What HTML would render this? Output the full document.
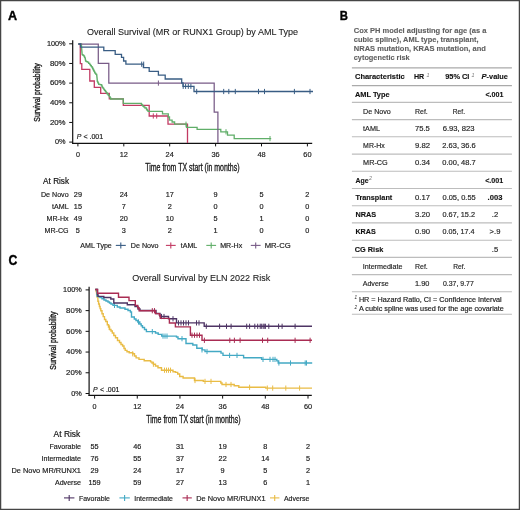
<!DOCTYPE html>
<html><head><meta charset="utf-8"><style>
html,body{margin:0;padding:0;background:#fff;}
body{width:520px;height:510px;overflow:hidden;}
svg{display:block;font-family:"Liberation Sans", sans-serif;will-change:transform;}
</style></head><body>
<svg width="520" height="510" viewBox="0 0 520 510">
<g>
<rect x="0" y="0" width="520" height="510" fill="#fff"/>
<text x="8.00" y="19.60" font-size="13.6" font-weight="bold" fill="#000" textLength="9.10" lengthAdjust="spacingAndGlyphs" stroke="#000" stroke-width="0.4">A</text>
<text x="87.00" y="34.60" font-size="9.9" fill="#1a1a1a" textLength="211.00" lengthAdjust="spacingAndGlyphs" stroke="#1a1a1a" stroke-width="0.1">Overall Survival (MR or RUNX1 Group) by AML Type</text>
<line x1="72.7" y1="40.3" x2="72.7" y2="144.0" stroke="#111" stroke-width="1.2"/>
<line x1="72.10000000000001" y1="143.4" x2="312.2" y2="143.4" stroke="#111" stroke-width="1.4"/>
<line x1="69.2" y1="43.8" x2="72.7" y2="43.8" stroke="#111" stroke-width="1"/>
<text x="65.60" y="46.00" font-size="7.18" text-anchor="end" fill="#1c1c1c" textLength="18.70" lengthAdjust="spacingAndGlyphs" stroke="#1c1c1c" stroke-width="0.18">100%</text>
<line x1="69.2" y1="63.459999999999994" x2="72.7" y2="63.459999999999994" stroke="#111" stroke-width="1"/>
<text x="65.60" y="65.66" font-size="7.18" text-anchor="end" fill="#1c1c1c" textLength="15.70" lengthAdjust="spacingAndGlyphs" stroke="#1c1c1c" stroke-width="0.18">80%</text>
<line x1="69.2" y1="83.12" x2="72.7" y2="83.12" stroke="#111" stroke-width="1"/>
<text x="65.60" y="85.32" font-size="7.18" text-anchor="end" fill="#1c1c1c" textLength="15.70" lengthAdjust="spacingAndGlyphs" stroke="#1c1c1c" stroke-width="0.18">60%</text>
<line x1="69.2" y1="102.78" x2="72.7" y2="102.78" stroke="#111" stroke-width="1"/>
<text x="65.60" y="104.98" font-size="7.18" text-anchor="end" fill="#1c1c1c" textLength="15.70" lengthAdjust="spacingAndGlyphs" stroke="#1c1c1c" stroke-width="0.18">40%</text>
<line x1="69.2" y1="122.44" x2="72.7" y2="122.44" stroke="#111" stroke-width="1"/>
<text x="65.60" y="124.64" font-size="7.18" text-anchor="end" fill="#1c1c1c" textLength="15.70" lengthAdjust="spacingAndGlyphs" stroke="#1c1c1c" stroke-width="0.18">20%</text>
<line x1="69.2" y1="142.1" x2="72.7" y2="142.1" stroke="#111" stroke-width="1"/>
<text x="65.60" y="144.30" font-size="7.18" text-anchor="end" fill="#1c1c1c" textLength="10.60" lengthAdjust="spacingAndGlyphs" stroke="#1c1c1c" stroke-width="0.18">0%</text>
<line x1="77.9" y1="143.4" x2="77.9" y2="146.4" stroke="#111" stroke-width="1"/>
<text x="77.90" y="157.40" font-size="7.49" text-anchor="middle" fill="#1c1c1c" textLength="4.00" lengthAdjust="spacingAndGlyphs" stroke="#1c1c1c" stroke-width="0.18">0</text>
<line x1="123.80000000000001" y1="143.4" x2="123.80000000000001" y2="146.4" stroke="#111" stroke-width="1"/>
<text x="123.80" y="157.40" font-size="7.49" text-anchor="middle" fill="#1c1c1c" textLength="8.20" lengthAdjust="spacingAndGlyphs" stroke="#1c1c1c" stroke-width="0.18">12</text>
<line x1="169.7" y1="143.4" x2="169.7" y2="146.4" stroke="#111" stroke-width="1"/>
<text x="169.70" y="157.40" font-size="7.49" text-anchor="middle" fill="#1c1c1c" textLength="8.20" lengthAdjust="spacingAndGlyphs" stroke="#1c1c1c" stroke-width="0.18">24</text>
<line x1="215.6" y1="143.4" x2="215.6" y2="146.4" stroke="#111" stroke-width="1"/>
<text x="215.60" y="157.40" font-size="7.49" text-anchor="middle" fill="#1c1c1c" textLength="8.20" lengthAdjust="spacingAndGlyphs" stroke="#1c1c1c" stroke-width="0.18">36</text>
<line x1="261.5" y1="143.4" x2="261.5" y2="146.4" stroke="#111" stroke-width="1"/>
<text x="261.50" y="157.40" font-size="7.49" text-anchor="middle" fill="#1c1c1c" textLength="8.20" lengthAdjust="spacingAndGlyphs" stroke="#1c1c1c" stroke-width="0.18">48</text>
<line x1="307.4" y1="143.4" x2="307.4" y2="146.4" stroke="#111" stroke-width="1"/>
<text x="307.40" y="157.40" font-size="7.49" text-anchor="middle" fill="#1c1c1c" textLength="8.20" lengthAdjust="spacingAndGlyphs" stroke="#1c1c1c" stroke-width="0.18">60</text>
<text x="145.20" y="171.30" font-size="10.15" fill="#121212" textLength="94.30" lengthAdjust="spacingAndGlyphs" stroke="#222" stroke-width="0.32">Time from TX start (in months)</text>
<text transform="translate(39.5,92.5) rotate(-90)" x="0" y="0" font-size="8.4" text-anchor="middle" textLength="58.4" lengthAdjust="spacingAndGlyphs" fill="#121212" stroke="#121212" stroke-width="0.3">Survival probability</text>
<text x="76.80" y="139.40" font-size="7.18" font-style="italic" fill="#1c1c1c" textLength="4.60" lengthAdjust="spacingAndGlyphs" stroke="#1c1c1c" stroke-width="0.18">P</text>
<text x="83.40" y="139.40" font-size="7.18" fill="#1c1c1c" textLength="19.80" lengthAdjust="spacingAndGlyphs" stroke="#1c1c1c" stroke-width="0.18">&lt; .001</text>
<path d="M78.40,44.00H80.30V63.60H81.80V69.40H89.80V81.00H94.30V87.30H100.70V93.30H109.30V98.90H123.30V105.30H149.20V116.00H168.00V124.20H187.50V143.00" fill="none" stroke="#c23a63" stroke-width="1.3" stroke-linejoin="miter" stroke-linecap="butt"/>
<path d="M153.30,113.40V118.60M156.70,113.40V118.60" fill="none" stroke="#c23a63" stroke-width="1"/>
<path d="M78.40,44.00H81.50V47.50H81.60V48.68H81.70V49.87H81.80V51.05H81.90V52.23H82.00V53.42H82.10V54.60H83.00V55.35H83.90V56.10H84.50V57.40H85.10V58.70H85.35V59.90H85.60V61.10H86.50V61.65H87.40V62.20H88.60V63.40H89.80V64.60H90.57V65.57H91.33V66.53H92.10V67.50H92.60V68.50H93.10V69.50H93.60V70.50H94.10V71.47H94.60V72.43H95.10V73.40H95.90V74.35H96.70V75.30H96.82V76.50H96.94V77.70H97.06V78.90H97.18V80.10H97.30V81.30H97.77V82.30H98.23V83.30H98.70V84.30H100.00V84.65H101.30V85.00H101.80V86.15H102.30V87.30H103.10V88.43H103.90V89.57H104.70V90.70H105.57V91.80H106.43V92.90H107.30V94.00H108.30V95.35H109.30V96.70H110.00V97.85H110.70V99.00H123.30V103.30H140.60H141.40V104.30H142.20V105.30H143.00V106.30H144.00V107.15H145.00V108.00H146.50V109.50H147.25V110.40H148.00V111.30H162.50V113.80H167.50H168.30V117.00H169.50V120.20H172.10V122.00H174.60V124.20H186.50V127.30H197.10V129.40H220.80V131.80H227.50V135.20H234.20V138.60H271.20" fill="none" stroke="#60ae69" stroke-width="1.3" stroke-linejoin="miter" stroke-linecap="butt"/>
<path d="M186.00,121.60V126.80M226.00,129.20V134.40M270.00,136.00V141.20" fill="none" stroke="#60ae69" stroke-width="1"/>
<path d="M78.40,44.00H98.30V63.30H108.80V83.10H214.20V112.10H217.90V143.00" fill="none" stroke="#785b87" stroke-width="1.25" stroke-linejoin="miter" stroke-linecap="butt"/>
<path d="M158.40,80.50V85.70" fill="none" stroke="#785b87" stroke-width="1"/>
<path d="M78.40,44.00H80.50V47.20H103.80V50.60H115.20V54.40H121.50V57.30H123.60V61.00H125.90V64.20H143.40V67.70H149.20V71.40H158.40V75.20H165.20V79.00H181.70V83.00H183.00V86.30H194.00V91.50H313.00" fill="none" stroke="#395d84" stroke-width="1.3" stroke-linejoin="miter" stroke-linecap="butt"/>
<path d="M141.70,61.60V66.80M143.70,61.60V66.80M183.20,83.70V88.90M185.60,83.70V88.90M188.30,83.70V88.90M190.90,83.70V88.90M196.70,88.90V94.10M223.70,88.90V94.10M228.80,88.90V94.10M235.30,88.90V94.10M258.50,88.90V94.10M264.50,88.90V94.10M294.40,88.90V94.10M310.00,88.90V94.10" fill="none" stroke="#395d84" stroke-width="1"/>
<text x="43.10" y="184.40" font-size="8.53" fill="#121212" textLength="26.00" lengthAdjust="spacingAndGlyphs" stroke="#121212" stroke-width="0.18">At Risk</text>
<text x="68.60" y="197.40" font-size="7.38" text-anchor="end" fill="#1c1c1c" textLength="27.62" lengthAdjust="spacingAndGlyphs" stroke="#1c1c1c" stroke-width="0.18">De Novo</text>
<text x="77.90" y="197.40" font-size="7.59" text-anchor="middle" fill="#1c1c1c" textLength="8.12" lengthAdjust="spacingAndGlyphs" stroke="#1c1c1c" stroke-width="0.18">29</text>
<text x="123.80" y="197.40" font-size="7.59" text-anchor="middle" fill="#1c1c1c" textLength="8.12" lengthAdjust="spacingAndGlyphs" stroke="#1c1c1c" stroke-width="0.18">24</text>
<text x="169.70" y="197.40" font-size="7.59" text-anchor="middle" fill="#1c1c1c" textLength="8.12" lengthAdjust="spacingAndGlyphs" stroke="#1c1c1c" stroke-width="0.18">17</text>
<text x="215.60" y="197.40" font-size="7.59" text-anchor="middle" fill="#1c1c1c" textLength="4.06" lengthAdjust="spacingAndGlyphs" stroke="#1c1c1c" stroke-width="0.18">9</text>
<text x="261.50" y="197.40" font-size="7.59" text-anchor="middle" fill="#1c1c1c" textLength="4.06" lengthAdjust="spacingAndGlyphs" stroke="#1c1c1c" stroke-width="0.18">5</text>
<text x="307.40" y="197.40" font-size="7.59" text-anchor="middle" fill="#1c1c1c" textLength="4.06" lengthAdjust="spacingAndGlyphs" stroke="#1c1c1c" stroke-width="0.18">2</text>
<text x="68.60" y="209.20" font-size="7.38" text-anchor="end" fill="#1c1c1c" textLength="16.57" lengthAdjust="spacingAndGlyphs" stroke="#1c1c1c" stroke-width="0.18">tAML</text>
<text x="77.90" y="209.20" font-size="7.59" text-anchor="middle" fill="#1c1c1c" textLength="8.12" lengthAdjust="spacingAndGlyphs" stroke="#1c1c1c" stroke-width="0.18">15</text>
<text x="123.80" y="209.20" font-size="7.59" text-anchor="middle" fill="#1c1c1c" textLength="4.06" lengthAdjust="spacingAndGlyphs" stroke="#1c1c1c" stroke-width="0.18">7</text>
<text x="169.70" y="209.20" font-size="7.59" text-anchor="middle" fill="#1c1c1c" textLength="4.06" lengthAdjust="spacingAndGlyphs" stroke="#1c1c1c" stroke-width="0.18">2</text>
<text x="215.60" y="209.20" font-size="7.59" text-anchor="middle" fill="#1c1c1c" textLength="4.06" lengthAdjust="spacingAndGlyphs" stroke="#1c1c1c" stroke-width="0.18">0</text>
<text x="261.50" y="209.20" font-size="7.59" text-anchor="middle" fill="#1c1c1c" textLength="4.06" lengthAdjust="spacingAndGlyphs" stroke="#1c1c1c" stroke-width="0.18">0</text>
<text x="307.40" y="209.20" font-size="7.59" text-anchor="middle" fill="#1c1c1c" textLength="4.06" lengthAdjust="spacingAndGlyphs" stroke="#1c1c1c" stroke-width="0.18">0</text>
<text x="68.60" y="221.00" font-size="7.38" text-anchor="end" fill="#1c1c1c" textLength="22.08" lengthAdjust="spacingAndGlyphs" stroke="#1c1c1c" stroke-width="0.18">MR-Hx</text>
<text x="77.90" y="221.00" font-size="7.59" text-anchor="middle" fill="#1c1c1c" textLength="8.12" lengthAdjust="spacingAndGlyphs" stroke="#1c1c1c" stroke-width="0.18">49</text>
<text x="123.80" y="221.00" font-size="7.59" text-anchor="middle" fill="#1c1c1c" textLength="8.12" lengthAdjust="spacingAndGlyphs" stroke="#1c1c1c" stroke-width="0.18">20</text>
<text x="169.70" y="221.00" font-size="7.59" text-anchor="middle" fill="#1c1c1c" textLength="8.12" lengthAdjust="spacingAndGlyphs" stroke="#1c1c1c" stroke-width="0.18">10</text>
<text x="215.60" y="221.00" font-size="7.59" text-anchor="middle" fill="#1c1c1c" textLength="4.06" lengthAdjust="spacingAndGlyphs" stroke="#1c1c1c" stroke-width="0.18">5</text>
<text x="261.50" y="221.00" font-size="7.59" text-anchor="middle" fill="#1c1c1c" textLength="4.06" lengthAdjust="spacingAndGlyphs" stroke="#1c1c1c" stroke-width="0.18">1</text>
<text x="307.40" y="221.00" font-size="7.59" text-anchor="middle" fill="#1c1c1c" textLength="4.06" lengthAdjust="spacingAndGlyphs" stroke="#1c1c1c" stroke-width="0.18">0</text>
<text x="68.60" y="233.10" font-size="7.38" text-anchor="end" fill="#1c1c1c" textLength="24.06" lengthAdjust="spacingAndGlyphs" stroke="#1c1c1c" stroke-width="0.18">MR-CG</text>
<text x="77.90" y="233.10" font-size="7.59" text-anchor="middle" fill="#1c1c1c" textLength="4.06" lengthAdjust="spacingAndGlyphs" stroke="#1c1c1c" stroke-width="0.18">5</text>
<text x="123.80" y="233.10" font-size="7.59" text-anchor="middle" fill="#1c1c1c" textLength="4.06" lengthAdjust="spacingAndGlyphs" stroke="#1c1c1c" stroke-width="0.18">3</text>
<text x="169.70" y="233.10" font-size="7.59" text-anchor="middle" fill="#1c1c1c" textLength="4.06" lengthAdjust="spacingAndGlyphs" stroke="#1c1c1c" stroke-width="0.18">2</text>
<text x="215.60" y="233.10" font-size="7.59" text-anchor="middle" fill="#1c1c1c" textLength="4.06" lengthAdjust="spacingAndGlyphs" stroke="#1c1c1c" stroke-width="0.18">1</text>
<text x="261.50" y="233.10" font-size="7.59" text-anchor="middle" fill="#1c1c1c" textLength="4.06" lengthAdjust="spacingAndGlyphs" stroke="#1c1c1c" stroke-width="0.18">0</text>
<text x="307.40" y="233.10" font-size="7.59" text-anchor="middle" fill="#1c1c1c" textLength="4.06" lengthAdjust="spacingAndGlyphs" stroke="#1c1c1c" stroke-width="0.18">0</text>
<text x="80.30" y="248.30" font-size="7.49" fill="#1c1c1c" textLength="31.50" lengthAdjust="spacingAndGlyphs" stroke="#1c1c1c" stroke-width="0.18">AML Type</text>
<line x1="115.8" y1="245.4" x2="125.8" y2="245.4" stroke="#395d84" stroke-width="1.1"/>
<line x1="120.8" y1="242.4" x2="120.8" y2="248.4" stroke="#395d84" stroke-width="1.1"/>
<text x="130.80" y="248.30" font-size="7.49" fill="#1c1c1c" textLength="27.80" lengthAdjust="spacingAndGlyphs" stroke="#1c1c1c" stroke-width="0.18">De Novo</text>
<line x1="165.9" y1="245.4" x2="175.7" y2="245.4" stroke="#c23a63" stroke-width="1.1"/>
<line x1="170.8" y1="242.4" x2="170.8" y2="248.4" stroke="#c23a63" stroke-width="1.1"/>
<text x="180.80" y="248.30" font-size="7.49" fill="#1c1c1c" textLength="16.50" lengthAdjust="spacingAndGlyphs" stroke="#1c1c1c" stroke-width="0.18">tAML</text>
<line x1="206.3" y1="245.4" x2="216.1" y2="245.4" stroke="#60ae69" stroke-width="1.1"/>
<line x1="211.2" y1="242.4" x2="211.2" y2="248.4" stroke="#60ae69" stroke-width="1.1"/>
<text x="220.20" y="248.30" font-size="7.49" fill="#1c1c1c" textLength="22.00" lengthAdjust="spacingAndGlyphs" stroke="#1c1c1c" stroke-width="0.18">MR-Hx</text>
<line x1="250.8" y1="245.4" x2="260.6" y2="245.4" stroke="#785b87" stroke-width="1.1"/>
<line x1="255.70000000000002" y1="242.4" x2="255.70000000000002" y2="248.4" stroke="#785b87" stroke-width="1.1"/>
<text x="264.70" y="248.30" font-size="7.49" fill="#1c1c1c" textLength="26.00" lengthAdjust="spacingAndGlyphs" stroke="#1c1c1c" stroke-width="0.18">MR-CG</text>
<text x="339.70" y="19.60" font-size="13.6" font-weight="bold" fill="#000" textLength="8.20" lengthAdjust="spacingAndGlyphs" stroke="#000" stroke-width="0.4">B</text>
<text x="353.80" y="33.20" font-size="7.5" font-weight="bold" fill="#5f5f5f" textLength="132.70" lengthAdjust="spacingAndGlyphs" stroke="#5f5f5f" stroke-width="0.12">Cox PH model adjusting for age (as a</text>
<text x="353.80" y="42.00" font-size="7.5" font-weight="bold" fill="#5f5f5f" textLength="124.70" lengthAdjust="spacingAndGlyphs" stroke="#5f5f5f" stroke-width="0.12">cubic spline), AML type, transplant,</text>
<text x="353.80" y="50.80" font-size="7.5" font-weight="bold" fill="#5f5f5f" textLength="132.10" lengthAdjust="spacingAndGlyphs" stroke="#5f5f5f" stroke-width="0.12">NRAS mutation, KRAS mutation, and</text>
<text x="353.80" y="59.60" font-size="7.5" font-weight="bold" fill="#5f5f5f" textLength="55.80" lengthAdjust="spacingAndGlyphs" stroke="#5f5f5f" stroke-width="0.12">cytogenetic risk</text>
<line x1="351.9" y1="67.9" x2="511.9" y2="67.9" stroke="#aaaaaa" stroke-width="1.2"/>
<line x1="351.9" y1="85.6" x2="511.9" y2="85.6" stroke="#aaaaaa" stroke-width="1.2"/>
<line x1="351.9" y1="102.4" x2="511.9" y2="102.4" stroke="#bdbdbd" stroke-width="1.1"/>
<line x1="351.9" y1="119.6" x2="511.9" y2="119.6" stroke="#bdbdbd" stroke-width="1.1"/>
<line x1="351.9" y1="136.8" x2="511.9" y2="136.8" stroke="#bdbdbd" stroke-width="1.1"/>
<line x1="351.9" y1="154.1" x2="511.9" y2="154.1" stroke="#bdbdbd" stroke-width="1.1"/>
<line x1="351.9" y1="171.3" x2="511.9" y2="171.3" stroke="#bdbdbd" stroke-width="1.1"/>
<line x1="351.9" y1="188.5" x2="511.9" y2="188.5" stroke="#bdbdbd" stroke-width="1.1"/>
<line x1="351.9" y1="205.7" x2="511.9" y2="205.7" stroke="#bdbdbd" stroke-width="1.1"/>
<line x1="351.9" y1="222.9" x2="511.9" y2="222.9" stroke="#bdbdbd" stroke-width="1.1"/>
<line x1="351.9" y1="240.2" x2="511.9" y2="240.2" stroke="#bdbdbd" stroke-width="1.1"/>
<line x1="351.9" y1="257.4" x2="511.9" y2="257.4" stroke="#bdbdbd" stroke-width="1.1"/>
<line x1="351.9" y1="274.6" x2="511.9" y2="274.6" stroke="#bdbdbd" stroke-width="1.1"/>
<line x1="351.9" y1="291.8" x2="511.9" y2="291.8" stroke="#bdbdbd" stroke-width="1.1"/>
<line x1="351.9" y1="314.3" x2="511.9" y2="314.3" stroke="#bdbdbd" stroke-width="1.1"/>
<text x="355.00" y="79.40" font-size="7.6" font-weight="bold" fill="#111" textLength="49.70" lengthAdjust="spacingAndGlyphs" stroke="#111" stroke-width="0.12">Characteristic</text>
<text x="413.90" y="79.40" font-size="7.6" font-weight="bold" fill="#111" textLength="10.30" lengthAdjust="spacingAndGlyphs" stroke="#111" stroke-width="0.12">HR</text>
<text x="426.60" y="76.90" font-size="5.4" font-style="italic" fill="#777" textLength="3.00" lengthAdjust="spacingAndGlyphs" stroke-width="0">1</text>
<text x="445.20" y="79.40" font-size="7.6" font-weight="bold" fill="#111" textLength="24.20" lengthAdjust="spacingAndGlyphs" stroke="#111" stroke-width="0.12">95% CI</text>
<text x="471.40" y="76.90" font-size="5.4" font-style="italic" fill="#777" textLength="3.00" lengthAdjust="spacingAndGlyphs" stroke-width="0">1</text>
<text x="481.40" y="79.40" font-size="7.6" font-weight="bold" font-style="italic" fill="#111" textLength="5.07" lengthAdjust="spacingAndGlyphs" stroke="#111" stroke-width="0.12">P</text>
<text x="486.60" y="79.40" font-size="7.6" font-weight="bold" fill="#111" textLength="21.30" lengthAdjust="spacingAndGlyphs" stroke="#111" stroke-width="0.12">-value</text>
<text x="355.00" y="96.90" font-size="7.6" font-weight="bold" fill="#111" textLength="34.60" lengthAdjust="spacingAndGlyphs" stroke="#111" stroke-width="0.12">AML Type</text>
<text x="485.40" y="96.90" font-size="7.6" font-weight="bold" fill="#111" textLength="18.10" lengthAdjust="spacingAndGlyphs" stroke="#111" stroke-width="0.12">&lt;.001</text>
<text x="363.10" y="113.80" font-size="7.8" fill="#262626" textLength="27.70" lengthAdjust="spacingAndGlyphs" stroke="#262626" stroke-width="0.18">De Novo</text>
<text x="415.00" y="113.80" font-size="7.7" fill="#262626" textLength="12.80" lengthAdjust="spacingAndGlyphs" stroke="#262626" stroke-width="0.18">Ref.</text>
<text x="452.80" y="113.80" font-size="7.7" fill="#262626" textLength="12.20" lengthAdjust="spacingAndGlyphs" stroke="#262626" stroke-width="0.18">Ref.</text>
<text x="363.10" y="131.02" font-size="7.8" fill="#262626" textLength="16.90" lengthAdjust="spacingAndGlyphs" stroke="#262626" stroke-width="0.18">tAML</text>
<text x="415.00" y="131.02" font-size="7.7" fill="#262626" textLength="14.80" lengthAdjust="spacingAndGlyphs" stroke="#262626" stroke-width="0.18">75.5</text>
<text x="442.70" y="131.02" font-size="7.7" fill="#262626" textLength="31.90" lengthAdjust="spacingAndGlyphs" stroke="#262626" stroke-width="0.18">6.93, 823</text>
<text x="363.10" y="148.24" font-size="7.8" fill="#262626" textLength="21.60" lengthAdjust="spacingAndGlyphs" stroke="#262626" stroke-width="0.18">MR-Hx</text>
<text x="415.00" y="148.24" font-size="7.7" fill="#262626" textLength="15.00" lengthAdjust="spacingAndGlyphs" stroke="#262626" stroke-width="0.18">9.82</text>
<text x="442.30" y="148.24" font-size="7.7" fill="#262626" textLength="33.40" lengthAdjust="spacingAndGlyphs" stroke="#262626" stroke-width="0.18">2.63, 36.6</text>
<text x="363.10" y="165.46" font-size="7.8" fill="#262626" textLength="24.60" lengthAdjust="spacingAndGlyphs" stroke="#262626" stroke-width="0.18">MR-CG</text>
<text x="415.00" y="165.46" font-size="7.7" fill="#262626" textLength="15.00" lengthAdjust="spacingAndGlyphs" stroke="#262626" stroke-width="0.18">0.34</text>
<text x="442.30" y="165.46" font-size="7.7" fill="#262626" textLength="33.40" lengthAdjust="spacingAndGlyphs" stroke="#262626" stroke-width="0.18">0.00, 48.7</text>
<text x="355.40" y="182.68" font-size="7.6" font-weight="bold" fill="#111" textLength="13.10" lengthAdjust="spacingAndGlyphs" stroke="#111" stroke-width="0.12">Age</text>
<text x="369.00" y="179.98" font-size="5.4" font-style="italic" fill="#777" textLength="3.00" lengthAdjust="spacingAndGlyphs" stroke-width="0">2</text>
<text x="485.20" y="182.68" font-size="7.6" font-weight="bold" fill="#111" textLength="18.10" lengthAdjust="spacingAndGlyphs" stroke="#111" stroke-width="0.12">&lt;.001</text>
<text x="355.40" y="199.90" font-size="7.6" font-weight="bold" fill="#111" textLength="36.90" lengthAdjust="spacingAndGlyphs" stroke="#111" stroke-width="0.12">Transplant</text>
<text x="415.00" y="199.90" font-size="7.7" fill="#262626" textLength="15.00" lengthAdjust="spacingAndGlyphs" stroke="#262626" stroke-width="0.18">0.17</text>
<text x="442.50" y="199.90" font-size="7.7" fill="#262626" textLength="33.20" lengthAdjust="spacingAndGlyphs" stroke="#262626" stroke-width="0.18">0.05, 0.55</text>
<text x="495.00" y="199.90" font-size="7.6" text-anchor="middle" font-weight="bold" fill="#111" textLength="14.79" lengthAdjust="spacingAndGlyphs" stroke="#111" stroke-width="0.12">.003</text>
<text x="355.40" y="217.12" font-size="7.6" font-weight="bold" fill="#111" textLength="20.80" lengthAdjust="spacingAndGlyphs" stroke="#111" stroke-width="0.12">NRAS</text>
<text x="415.00" y="217.12" font-size="7.7" fill="#262626" textLength="15.00" lengthAdjust="spacingAndGlyphs" stroke="#262626" stroke-width="0.18">3.20</text>
<text x="442.50" y="217.12" font-size="7.7" fill="#262626" textLength="32.50" lengthAdjust="spacingAndGlyphs" stroke="#262626" stroke-width="0.18">0.67, 15.2</text>
<text x="495.00" y="217.12" font-size="7.9" text-anchor="middle" fill="#262626" textLength="6.34" lengthAdjust="spacingAndGlyphs" stroke="#262626" stroke-width="0.18">.2</text>
<text x="355.40" y="234.34" font-size="7.6" font-weight="bold" fill="#111" textLength="20.40" lengthAdjust="spacingAndGlyphs" stroke="#111" stroke-width="0.12">KRAS</text>
<text x="415.00" y="234.34" font-size="7.7" fill="#262626" textLength="15.00" lengthAdjust="spacingAndGlyphs" stroke="#262626" stroke-width="0.18">0.90</text>
<text x="442.50" y="234.34" font-size="7.7" fill="#262626" textLength="32.00" lengthAdjust="spacingAndGlyphs" stroke="#262626" stroke-width="0.18">0.05, 17.4</text>
<text x="495.00" y="234.34" font-size="7.9" text-anchor="middle" fill="#262626" textLength="10.78" lengthAdjust="spacingAndGlyphs" stroke="#262626" stroke-width="0.18">&gt;.9</text>
<text x="354.80" y="251.56" font-size="7.6" font-weight="bold" fill="#111" textLength="28.50" lengthAdjust="spacingAndGlyphs" stroke="#111" stroke-width="0.12">CG Risk</text>
<text x="495.00" y="251.56" font-size="7.9" text-anchor="middle" fill="#262626" textLength="6.34" lengthAdjust="spacingAndGlyphs" stroke="#262626" stroke-width="0.18">.5</text>
<text x="362.70" y="268.78" font-size="7.8" fill="#262626" textLength="39.70" lengthAdjust="spacingAndGlyphs" stroke="#262626" stroke-width="0.18">Intermediate</text>
<text x="415.00" y="268.78" font-size="7.7" fill="#262626" textLength="12.80" lengthAdjust="spacingAndGlyphs" stroke="#262626" stroke-width="0.18">Ref.</text>
<text x="453.20" y="268.78" font-size="7.7" fill="#262626" textLength="12.20" lengthAdjust="spacingAndGlyphs" stroke="#262626" stroke-width="0.18">Ref.</text>
<text x="362.70" y="286.00" font-size="7.8" fill="#262626" textLength="26.00" lengthAdjust="spacingAndGlyphs" stroke="#262626" stroke-width="0.18">Adverse</text>
<text x="415.00" y="286.00" font-size="7.7" fill="#262626" textLength="14.40" lengthAdjust="spacingAndGlyphs" stroke="#262626" stroke-width="0.18">1.90</text>
<text x="443.00" y="286.00" font-size="7.7" fill="#262626" textLength="30.80" lengthAdjust="spacingAndGlyphs" stroke="#262626" stroke-width="0.18">0.37, 9.77</text>
<text x="354.40" y="299.40" font-size="4.78" font-style="italic" fill="#1c1c1c" textLength="2.56" lengthAdjust="spacingAndGlyphs">1</text>
<text x="358.90" y="302.00" font-size="7.54" fill="#1c1c1c" textLength="142.80" lengthAdjust="spacingAndGlyphs" stroke="#1c1c1c" stroke-width="0.18">HR = Hazard Ratio, CI = Confidence Interval</text>
<text x="354.40" y="308.60" font-size="4.78" font-style="italic" fill="#1c1c1c" textLength="2.56" lengthAdjust="spacingAndGlyphs">2</text>
<text x="358.90" y="311.20" font-size="7.54" fill="#1c1c1c" textLength="145.00" lengthAdjust="spacingAndGlyphs" stroke="#1c1c1c" stroke-width="0.18">A cubic spline was used for the age covariate</text>
<text x="8.40" y="265.30" font-size="14.0" font-weight="bold" fill="#000" textLength="8.80" lengthAdjust="spacingAndGlyphs" stroke="#000" stroke-width="0.4">C</text>
<text x="132.30" y="280.70" font-size="9.9" fill="#1a1a1a" textLength="137.90" lengthAdjust="spacingAndGlyphs" stroke="#1a1a1a" stroke-width="0.1">Overall Survival by ELN 2022 Risk</text>
<line x1="89.1" y1="286.8" x2="89.1" y2="396.0" stroke="#111" stroke-width="1.2"/>
<line x1="88.5" y1="395.4" x2="311.8" y2="395.4" stroke="#111" stroke-width="1.4"/>
<line x1="85.6" y1="289.9" x2="89.1" y2="289.9" stroke="#111" stroke-width="1"/>
<text x="81.80" y="292.10" font-size="7.18" text-anchor="end" fill="#1c1c1c" textLength="18.70" lengthAdjust="spacingAndGlyphs" stroke="#1c1c1c" stroke-width="0.18">100%</text>
<line x1="85.6" y1="310.62" x2="89.1" y2="310.62" stroke="#111" stroke-width="1"/>
<text x="81.80" y="312.82" font-size="7.18" text-anchor="end" fill="#1c1c1c" textLength="15.70" lengthAdjust="spacingAndGlyphs" stroke="#1c1c1c" stroke-width="0.18">80%</text>
<line x1="85.6" y1="331.34000000000003" x2="89.1" y2="331.34000000000003" stroke="#111" stroke-width="1"/>
<text x="81.80" y="333.54" font-size="7.18" text-anchor="end" fill="#1c1c1c" textLength="15.70" lengthAdjust="spacingAndGlyphs" stroke="#1c1c1c" stroke-width="0.18">60%</text>
<line x1="85.6" y1="352.06" x2="89.1" y2="352.06" stroke="#111" stroke-width="1"/>
<text x="81.80" y="354.26" font-size="7.18" text-anchor="end" fill="#1c1c1c" textLength="15.70" lengthAdjust="spacingAndGlyphs" stroke="#1c1c1c" stroke-width="0.18">40%</text>
<line x1="85.6" y1="372.78" x2="89.1" y2="372.78" stroke="#111" stroke-width="1"/>
<text x="81.80" y="374.98" font-size="7.18" text-anchor="end" fill="#1c1c1c" textLength="15.70" lengthAdjust="spacingAndGlyphs" stroke="#1c1c1c" stroke-width="0.18">20%</text>
<line x1="85.6" y1="393.5" x2="89.1" y2="393.5" stroke="#111" stroke-width="1"/>
<text x="81.80" y="395.70" font-size="7.18" text-anchor="end" fill="#1c1c1c" textLength="10.60" lengthAdjust="spacingAndGlyphs" stroke="#1c1c1c" stroke-width="0.18">0%</text>
<line x1="94.6" y1="395.4" x2="94.6" y2="398.6" stroke="#111" stroke-width="1"/>
<text x="94.60" y="408.60" font-size="7.49" text-anchor="middle" fill="#1c1c1c" textLength="4.00" lengthAdjust="spacingAndGlyphs" stroke="#1c1c1c" stroke-width="0.18">0</text>
<line x1="137.28" y1="395.4" x2="137.28" y2="398.6" stroke="#111" stroke-width="1"/>
<text x="137.28" y="408.60" font-size="7.49" text-anchor="middle" fill="#1c1c1c" textLength="8.20" lengthAdjust="spacingAndGlyphs" stroke="#1c1c1c" stroke-width="0.18">12</text>
<line x1="179.95999999999998" y1="395.4" x2="179.95999999999998" y2="398.6" stroke="#111" stroke-width="1"/>
<text x="179.96" y="408.60" font-size="7.49" text-anchor="middle" fill="#1c1c1c" textLength="8.20" lengthAdjust="spacingAndGlyphs" stroke="#1c1c1c" stroke-width="0.18">24</text>
<line x1="222.64000000000001" y1="395.4" x2="222.64000000000001" y2="398.6" stroke="#111" stroke-width="1"/>
<text x="222.64" y="408.60" font-size="7.49" text-anchor="middle" fill="#1c1c1c" textLength="8.20" lengthAdjust="spacingAndGlyphs" stroke="#1c1c1c" stroke-width="0.18">36</text>
<line x1="265.32" y1="395.4" x2="265.32" y2="398.6" stroke="#111" stroke-width="1"/>
<text x="265.32" y="408.60" font-size="7.49" text-anchor="middle" fill="#1c1c1c" textLength="8.20" lengthAdjust="spacingAndGlyphs" stroke="#1c1c1c" stroke-width="0.18">48</text>
<line x1="308.0" y1="395.4" x2="308.0" y2="398.6" stroke="#111" stroke-width="1"/>
<text x="308.00" y="408.60" font-size="7.49" text-anchor="middle" fill="#1c1c1c" textLength="8.20" lengthAdjust="spacingAndGlyphs" stroke="#1c1c1c" stroke-width="0.18">60</text>
<text x="146.20" y="423.20" font-size="10.15" fill="#121212" textLength="94.30" lengthAdjust="spacingAndGlyphs" stroke="#222" stroke-width="0.32">Time from TX start (in months)</text>
<text transform="translate(55.8,340.6) rotate(-90)" x="0" y="0" font-size="8.4" text-anchor="middle" textLength="58.2" lengthAdjust="spacingAndGlyphs" fill="#121212" stroke="#121212" stroke-width="0.3">Survival probability</text>
<text x="93.00" y="391.50" font-size="7.18" font-style="italic" fill="#1c1c1c" textLength="4.60" lengthAdjust="spacingAndGlyphs" stroke="#1c1c1c" stroke-width="0.18">P</text>
<text x="99.90" y="391.50" font-size="7.18" fill="#1c1c1c" textLength="19.60" lengthAdjust="spacingAndGlyphs" stroke="#1c1c1c" stroke-width="0.18">&lt; .001</text>
<path d="M95.30,289.50H96.10V291.50H96.60V294.00H97.10V297.00H97.90V301.30H98.60V304.00H99.40V306.50H100.10V308.60H100.80V310.70H102.00V313.70H103.20V316.60H104.50V319.50H105.80V321.50H107.30V324.80H108.50V327.00H109.60V329.50H111.00V331.00H112.30V333.00H113.80V335.50H115.50V337.80H117.50V340.50H119.50V342.50H121.00V344.50H122.60V346.00H124.00V348.50H125.20V350.40H127.00V351.80H129.20V352.70H132.70V353.80H134.50V356.00H136.10V357.90H139.00V359.40H144.20V360.80H150.60V361.90H152.00V363.00H153.40V364.20H155.50V366.00H158.00V367.70H161.50V370.20H173.00V371.70H175.50V372.40H177.70V374.00H179.70V376.50H183.10V378.00H194.50V380.50H203.30V381.40H220.80V383.00H222.00V384.50H234.20V385.80H238.80V387.30H265.80V388.10H312.00" fill="none" stroke="#e9bc45" stroke-width="1.4" stroke-linejoin="miter" stroke-linecap="butt"/>
<path d="M109.20,324.90V330.10M132.70,351.20V356.40M153.40,361.60V366.80M164.50,367.60V372.80M166.50,367.60V372.80M168.50,367.60V372.80M170.50,367.60V372.80M195.00,377.90V383.10M205.00,378.80V384.00M211.00,378.80V384.00M226.00,381.90V387.10M231.00,381.90V387.10M249.60,384.70V389.90M267.30,385.50V390.70M272.70,385.50V390.70M285.80,385.50V390.70M299.60,385.50V390.70" fill="none" stroke="#e9bc45" stroke-width="1"/>
<path d="M95.30,289.50H97.00V296.00H98.50V296.80H100.00V297.50H102.00V298.70H104.00V300.00H106.00V301.00H108.00V302.00H109.50V303.00H111.00V304.00H113.00V305.40H117.30V307.00H120.00V308.00H125.00V309.20H128.00V310.50H130.40V312.00H131.50V317.00H134.30V319.00H136.00V320.50H137.80V322.00H139.80V324.00H141.20V325.80H142.50V327.50H144.50V329.50H146.40V331.60H155.50V333.00H158.20V334.40H161.70V336.10H176.50V337.00H178.00V338.70H186.00V343.50H192.80V345.00H196.80V348.20H202.20V349.90H205.00V351.50H221.00V353.10H223.00V355.40H243.60V357.70H261.60V359.40H276.80V360.90H278.20V363.00H312.20" fill="none" stroke="#43a9c4" stroke-width="1.4" stroke-linejoin="miter" stroke-linecap="butt"/>
<path d="M114.50,302.80V308.00M138.50,319.40V324.60M152.30,329.00V334.20M163.00,333.50V338.70M165.00,333.50V338.70M167.00,333.50V338.70M182.00,336.10V341.30M202.00,347.30V352.50M207.00,348.90V354.10M229.60,352.80V358.00M237.00,352.80V358.00M263.00,356.80V362.00M270.00,356.80V362.00M273.00,356.80V362.00M275.00,356.80V362.00M278.90,360.40V365.60M290.50,360.40V365.60M305.20,360.40V365.60M306.50,360.40V365.60" fill="none" stroke="#43a9c4" stroke-width="1"/>
<path d="M95.30,289.50H97.50V294.50H98.00V296.40H103.80V297.50H110.80V299.00H113.80V303.00H127.30V304.80H135.00V306.50H138.00V309.00H140.00V310.50H156.00V313.50H160.00V316.50H168.50V318.80H176.50V322.90H204.20V326.30H312.00" fill="none" stroke="#4e3464" stroke-width="1.4" stroke-linejoin="miter" stroke-linecap="butt"/>
<path d="M161.50,313.90V319.10M164.00,313.90V319.10M173.00,316.20V321.40M178.50,320.30V325.50M181.00,320.30V325.50M183.50,320.30V325.50M186.00,320.30V325.50M188.50,320.30V325.50M196.50,320.30V325.50M199.00,320.30V325.50M206.30,323.70V328.90M219.60,323.70V328.90M226.50,323.70V328.90M231.10,323.70V328.90M246.70,323.70V328.90M249.60,323.70V328.90M254.80,323.70V328.90M257.70,323.70V328.90M260.20,323.70V328.90M261.30,323.70V328.90M263.10,323.70V328.90M264.20,323.70V328.90M265.40,323.70V328.90M268.80,323.70V328.90M278.60,323.70V328.90M282.10,323.70V328.90M295.10,323.70V328.90" fill="none" stroke="#4e3464" stroke-width="1"/>
<path d="M95.30,289.50H97.50V293.30H118.50V297.20H129.00V300.60H135.30V305.40H137.70V307.80H139.10V310.70H155.50V313.60H159.40V315.20H160.30V318.40H169.40V323.00H175.40V326.90H190.40V335.20H202.00V340.30H312.00" fill="none" stroke="#a92c53" stroke-width="1.4" stroke-linejoin="miter" stroke-linecap="butt"/>
<path d="M152.30,308.10V313.30M154.50,308.10V313.30M192.00,332.60V337.80M194.50,332.60V337.80M197.00,332.60V337.80M199.50,332.60V337.80M204.40,337.70V342.90M229.80,337.70V342.90M234.40,337.70V342.90M240.10,337.70V342.90M262.50,337.70V342.90M267.70,337.70V342.90M295.10,337.70V342.90M310.10,337.70V342.90" fill="none" stroke="#a92c53" stroke-width="1"/>
<text x="53.60" y="436.60" font-size="8.53" fill="#121212" textLength="26.70" lengthAdjust="spacingAndGlyphs" stroke="#121212" stroke-width="0.18">At Risk</text>
<text x="81.00" y="448.60" font-size="7.38" text-anchor="end" fill="#1c1c1c" textLength="31.57" lengthAdjust="spacingAndGlyphs" stroke="#1c1c1c" stroke-width="0.18">Favorable</text>
<text x="94.60" y="448.60" font-size="7.59" text-anchor="middle" fill="#1c1c1c" textLength="8.12" lengthAdjust="spacingAndGlyphs" stroke="#1c1c1c" stroke-width="0.18">55</text>
<text x="137.28" y="448.60" font-size="7.59" text-anchor="middle" fill="#1c1c1c" textLength="8.12" lengthAdjust="spacingAndGlyphs" stroke="#1c1c1c" stroke-width="0.18">46</text>
<text x="179.96" y="448.60" font-size="7.59" text-anchor="middle" fill="#1c1c1c" textLength="8.12" lengthAdjust="spacingAndGlyphs" stroke="#1c1c1c" stroke-width="0.18">31</text>
<text x="222.64" y="448.60" font-size="7.59" text-anchor="middle" fill="#1c1c1c" textLength="8.12" lengthAdjust="spacingAndGlyphs" stroke="#1c1c1c" stroke-width="0.18">19</text>
<text x="265.32" y="448.60" font-size="7.59" text-anchor="middle" fill="#1c1c1c" textLength="4.06" lengthAdjust="spacingAndGlyphs" stroke="#1c1c1c" stroke-width="0.18">8</text>
<text x="308.00" y="448.60" font-size="7.59" text-anchor="middle" fill="#1c1c1c" textLength="4.06" lengthAdjust="spacingAndGlyphs" stroke="#1c1c1c" stroke-width="0.18">2</text>
<text x="81.00" y="460.60" font-size="7.38" text-anchor="end" fill="#1c1c1c" textLength="39.47" lengthAdjust="spacingAndGlyphs" stroke="#1c1c1c" stroke-width="0.18">Intermediate</text>
<text x="94.60" y="460.60" font-size="7.59" text-anchor="middle" fill="#1c1c1c" textLength="8.12" lengthAdjust="spacingAndGlyphs" stroke="#1c1c1c" stroke-width="0.18">76</text>
<text x="137.28" y="460.60" font-size="7.59" text-anchor="middle" fill="#1c1c1c" textLength="8.12" lengthAdjust="spacingAndGlyphs" stroke="#1c1c1c" stroke-width="0.18">55</text>
<text x="179.96" y="460.60" font-size="7.59" text-anchor="middle" fill="#1c1c1c" textLength="8.12" lengthAdjust="spacingAndGlyphs" stroke="#1c1c1c" stroke-width="0.18">37</text>
<text x="222.64" y="460.60" font-size="7.59" text-anchor="middle" fill="#1c1c1c" textLength="8.12" lengthAdjust="spacingAndGlyphs" stroke="#1c1c1c" stroke-width="0.18">22</text>
<text x="265.32" y="460.60" font-size="7.59" text-anchor="middle" fill="#1c1c1c" textLength="8.12" lengthAdjust="spacingAndGlyphs" stroke="#1c1c1c" stroke-width="0.18">14</text>
<text x="308.00" y="460.60" font-size="7.59" text-anchor="middle" fill="#1c1c1c" textLength="4.06" lengthAdjust="spacingAndGlyphs" stroke="#1c1c1c" stroke-width="0.18">5</text>
<text x="81.00" y="472.60" font-size="7.38" text-anchor="end" fill="#1c1c1c" textLength="69.60" lengthAdjust="spacingAndGlyphs" stroke="#1c1c1c" stroke-width="0.18">De Novo MR/RUNX1</text>
<text x="94.60" y="472.60" font-size="7.59" text-anchor="middle" fill="#1c1c1c" textLength="8.12" lengthAdjust="spacingAndGlyphs" stroke="#1c1c1c" stroke-width="0.18">29</text>
<text x="137.28" y="472.60" font-size="7.59" text-anchor="middle" fill="#1c1c1c" textLength="8.12" lengthAdjust="spacingAndGlyphs" stroke="#1c1c1c" stroke-width="0.18">24</text>
<text x="179.96" y="472.60" font-size="7.59" text-anchor="middle" fill="#1c1c1c" textLength="8.12" lengthAdjust="spacingAndGlyphs" stroke="#1c1c1c" stroke-width="0.18">17</text>
<text x="222.64" y="472.60" font-size="7.59" text-anchor="middle" fill="#1c1c1c" textLength="4.06" lengthAdjust="spacingAndGlyphs" stroke="#1c1c1c" stroke-width="0.18">9</text>
<text x="265.32" y="472.60" font-size="7.59" text-anchor="middle" fill="#1c1c1c" textLength="4.06" lengthAdjust="spacingAndGlyphs" stroke="#1c1c1c" stroke-width="0.18">5</text>
<text x="308.00" y="472.60" font-size="7.59" text-anchor="middle" fill="#1c1c1c" textLength="4.06" lengthAdjust="spacingAndGlyphs" stroke="#1c1c1c" stroke-width="0.18">2</text>
<text x="81.00" y="484.60" font-size="7.38" text-anchor="end" fill="#1c1c1c" textLength="26.05" lengthAdjust="spacingAndGlyphs" stroke="#1c1c1c" stroke-width="0.18">Adverse</text>
<text x="94.60" y="484.60" font-size="7.59" text-anchor="middle" fill="#1c1c1c" textLength="12.18" lengthAdjust="spacingAndGlyphs" stroke="#1c1c1c" stroke-width="0.18">159</text>
<text x="137.28" y="484.60" font-size="7.59" text-anchor="middle" fill="#1c1c1c" textLength="8.12" lengthAdjust="spacingAndGlyphs" stroke="#1c1c1c" stroke-width="0.18">59</text>
<text x="179.96" y="484.60" font-size="7.59" text-anchor="middle" fill="#1c1c1c" textLength="8.12" lengthAdjust="spacingAndGlyphs" stroke="#1c1c1c" stroke-width="0.18">27</text>
<text x="222.64" y="484.60" font-size="7.59" text-anchor="middle" fill="#1c1c1c" textLength="8.12" lengthAdjust="spacingAndGlyphs" stroke="#1c1c1c" stroke-width="0.18">13</text>
<text x="265.32" y="484.60" font-size="7.59" text-anchor="middle" fill="#1c1c1c" textLength="4.06" lengthAdjust="spacingAndGlyphs" stroke="#1c1c1c" stroke-width="0.18">6</text>
<text x="308.00" y="484.60" font-size="7.59" text-anchor="middle" fill="#1c1c1c" textLength="4.06" lengthAdjust="spacingAndGlyphs" stroke="#1c1c1c" stroke-width="0.18">1</text>
<line x1="64.0" y1="497.9" x2="74.4" y2="497.9" stroke="#4e3464" stroke-width="1.1"/>
<line x1="69.2" y1="494.9" x2="69.2" y2="500.9" stroke="#4e3464" stroke-width="1.1"/>
<text x="78.90" y="500.60" font-size="7.49" fill="#1c1c1c" textLength="31.10" lengthAdjust="spacingAndGlyphs" stroke="#1c1c1c" stroke-width="0.18">Favorable</text>
<line x1="119.4" y1="497.9" x2="129.8" y2="497.9" stroke="#43a9c4" stroke-width="1.1"/>
<line x1="124.60000000000001" y1="494.9" x2="124.60000000000001" y2="500.9" stroke="#43a9c4" stroke-width="1.1"/>
<text x="134.30" y="500.60" font-size="7.49" fill="#1c1c1c" textLength="38.70" lengthAdjust="spacingAndGlyphs" stroke="#1c1c1c" stroke-width="0.18">Intermediate</text>
<line x1="182.5" y1="497.9" x2="191.8" y2="497.9" stroke="#a92c53" stroke-width="1.1"/>
<line x1="187.15" y1="494.9" x2="187.15" y2="500.9" stroke="#a92c53" stroke-width="1.1"/>
<text x="196.30" y="500.60" font-size="7.49" fill="#1c1c1c" textLength="69.20" lengthAdjust="spacingAndGlyphs" stroke="#1c1c1c" stroke-width="0.18">De Novo MR/RUNX1</text>
<line x1="270.0" y1="497.9" x2="279.4" y2="497.9" stroke="#e9bc45" stroke-width="1.1"/>
<line x1="274.7" y1="494.9" x2="274.7" y2="500.9" stroke="#e9bc45" stroke-width="1.1"/>
<text x="283.90" y="500.60" font-size="7.49" fill="#1c1c1c" textLength="25.60" lengthAdjust="spacingAndGlyphs" stroke="#1c1c1c" stroke-width="0.18">Adverse</text>
<rect x="0.6" y="0.6" width="518.8" height="508.8" fill="none" stroke="#454545" stroke-width="1.3"/>
</g>
</svg>
</body></html>
